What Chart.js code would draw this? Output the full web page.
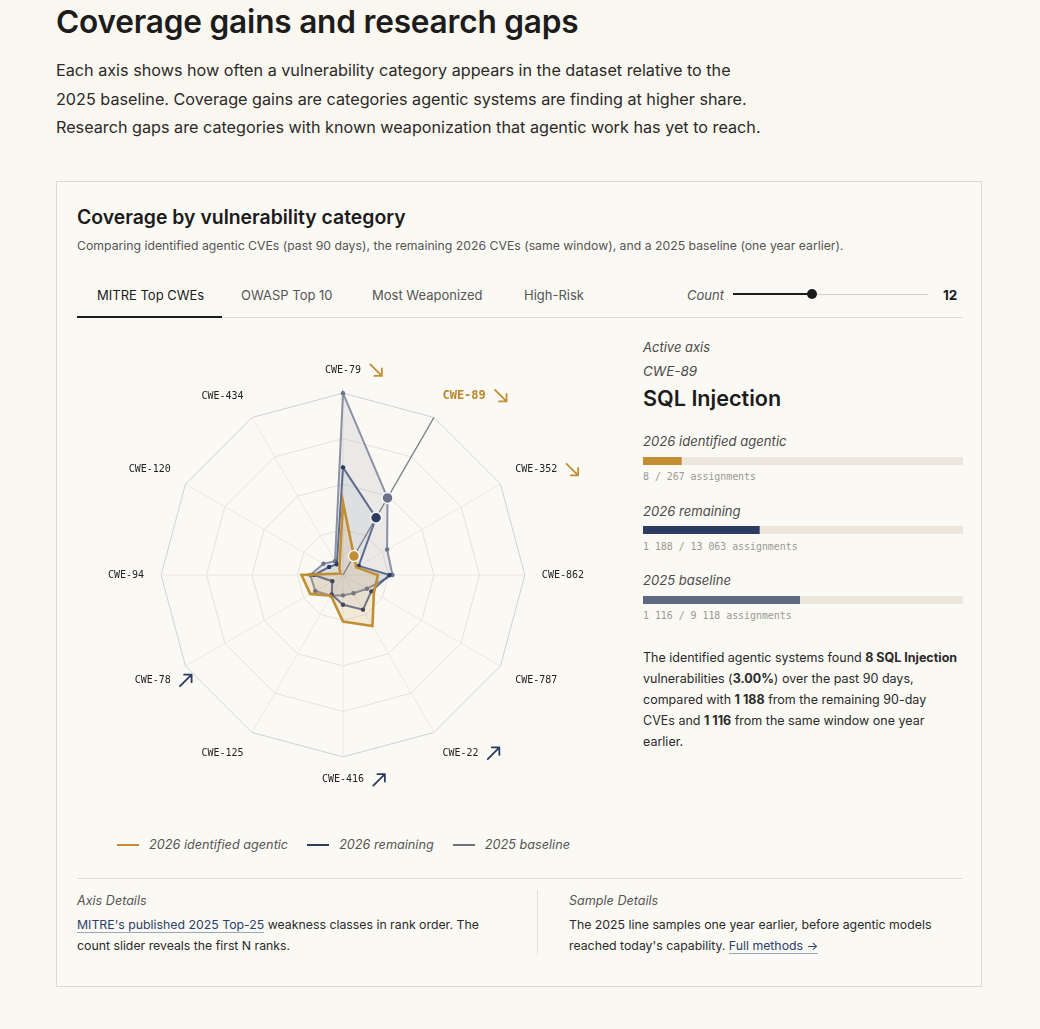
<!DOCTYPE html>
<html><head><meta charset="utf-8">
<script src="https://cdn.jsdelivr.net/npm/chart.js@4.4.1/dist/chart.umd.min.js"></script>
<style>
html,body{margin:0;padding:0}
body{background:#faf7f0;font-family:Inter,'Noto Sans',sans-serif;color:#1c1c1c;width:1040px;height:1029px;position:relative;overflow:hidden}
.a{position:absolute;white-space:nowrap}
.card{position:absolute;left:56px;top:181px;width:926px;height:806px;border:1px solid #dcd8cf;background:#fbf9f4;box-sizing:border-box}
.it{font-style:italic;color:#4a4a4a}
.mono{font-family:'DejaVu Sans Mono',monospace;font-size:9.9px;color:#9a9893}
.track{position:absolute;left:643px;width:320px;height:8px;background:#ede6dc}
.lg{display:inline-flex;align-items:center;margin-right:19px}
.lg i{display:inline-block;width:22px;height:2px;margin-right:10px}
a{color:#2b3f6b;text-decoration:none;border-bottom:1px solid #9aa6c0}
</style></head>
<body>
<div class="a" style="left:56px;top:3px;font-size:31.6px;line-height:38px;font-weight:600;letter-spacing:-0.2px">Coverage gains and research gaps</div>
<div class="a" style="left:56px;top:56px;font-size:16.2px;line-height:28.6px;color:#2a2a2a">Each axis shows how often a vulnerability category appears in the dataset relative to the<br>2025 baseline. Coverage gains are categories agentic systems are finding at higher share.<br>Research gaps are categories with known weaponization that agentic work has yet to reach.</div>

<div class="card"></div>
<div class="a" style="left:77px;top:205px;font-size:19.4px;line-height:24px;font-weight:600">Coverage by vulnerability category</div>
<div class="a" style="left:77px;top:238px;font-size:12.25px;line-height:16px;color:#555">Comparing identified agentic CVEs (past 90 days), the remaining 2026 CVEs (same window), and a 2025 baseline (one year earlier).</div>

<div class="a" style="left:97px;top:286px;font-size:13px;line-height:18px;color:#1c1c1c">MITRE Top CWEs</div>
<div class="a" style="left:241px;top:286px;font-size:13px;line-height:18px;color:#555">OWASP Top 10</div>
<div class="a" style="left:372px;top:286px;font-size:13px;line-height:18px;color:#555">Most Weaponized</div>
<div class="a" style="left:524px;top:286px;font-size:13px;line-height:18px;color:#555">High-Risk</div>
<div class="a" style="left:77px;top:317px;width:886px;height:1px;background:#dedad2"></div>
<div class="a" style="left:77px;top:316px;width:145px;height:2px;background:#1c1c1c"></div>
<div class="a it" style="left:687px;top:286px;font-size:13px;line-height:18px;color:#555">Count</div>
<div class="a" style="left:733px;top:293px;width:80px;height:2px;background:#1c1c1c"></div>
<div class="a" style="left:812px;top:294px;width:116px;height:1px;background:#d6d2ca"></div>
<div class="a" style="left:807px;top:289px;width:10px;height:10px;border-radius:50%;background:#1c1c1c"></div>
<div class="a" style="left:943px;top:286px;font-size:13.5px;line-height:18px;font-weight:700">12</div>

<div class="a" style="left:77px;top:330px;width:534px;height:490px"><canvas id="radar" width="534" height="490"></canvas></div>

<div class="a" id="legend" style="left:117px;top:833px;font-size:12.7px;line-height:18px;font-style:italic;color:#555"></div>

<div class="a it" style="left:643px;top:339px;font-size:13px;line-height:17px">Active axis</div>
<div class="a it" id="actCode" style="left:643px;top:362px;font-size:13.5px;line-height:18px"></div>
<div class="a" id="actName" style="left:643px;top:384px;font-size:21.6px;line-height:28px;font-weight:600"></div>

<div class="a it" id="s0" style="left:643px;top:432px;font-size:13.1px;line-height:18px"></div>
<div class="track" style="top:457px"><canvas id="b0" width="320" height="8"></canvas></div>
<div class="a mono" id="c0" style="left:643px;top:471px;line-height:12px"></div>
<div class="a it" id="s1" style="left:643px;top:502px;font-size:13.1px;line-height:18px"></div>
<div class="track" style="top:526px"><canvas id="b1" width="320" height="8"></canvas></div>
<div class="a mono" id="c1" style="left:643px;top:541px;line-height:12px"></div>
<div class="a it" id="s2" style="left:643px;top:571px;font-size:13.1px;line-height:18px"></div>
<div class="track" style="top:596px"><canvas id="b2" width="320" height="8"></canvas></div>
<div class="a mono" id="c2" style="left:643px;top:610px;line-height:12px"></div>

<div class="a" id="para" style="left:643px;top:647px;font-size:12.5px;line-height:21px;color:#2a2a2a"></div>

<div class="a" style="left:77px;top:878px;width:886px;height:1px;background:#e3dfd7"></div>
<div class="a" style="left:537px;top:890px;width:1px;height:65px;background:#e3dfd7"></div>
<div class="a it" style="left:77px;top:892px;font-size:12.6px;line-height:18px;color:#555">Axis Details</div>
<div class="a" style="left:77px;top:915px;font-size:12.3px;line-height:20.5px;color:#2a2a2a"><a>MITRE's published 2025 Top-25</a> weakness classes in rank order. The<br>count slider reveals the first N ranks.</div>
<div class="a it" style="left:569px;top:892px;font-size:12.6px;line-height:18px;color:#555">Sample Details</div>
<div class="a" style="left:569px;top:915px;font-size:12.3px;line-height:20.5px;color:#2a2a2a">The 2025 line samples one year earlier, before agentic models<br>reached today's capability. <a>Full methods →</a></div>

<script>
// ---- data ----
const categories = ['CWE-79','CWE-89','CWE-352','CWE-862','CWE-787','CWE-22','CWE-416','CWE-125','CWE-78','CWE-94','CWE-120','CWE-434'];
const agentic   = [10.0, 3.00, 2.1, 4.8, 4.9, 8.1, 6.4, 3.3, 5.2, 5.7, 0.4, 1.0];
const remaining = [14.8, 9.09, 2.5, 6.4, 4.5, 5.5, 4.1, 3.1, 1.7, 4.0, 2.2, 1.7];
const baseline  = [25.0, 12.24, 7.0, 6.8, 3.8, 2.9, 2.8, 3.3, 4.4, 4.5, 3.1, 2.2];
const seriesNames = ['2026 identified agentic','2026 remaining','2025 baseline'];
const trendDown = ['CWE-79','CWE-89','CWE-352'];
const trendUp   = ['CWE-22','CWE-416','CWE-78'];
const activeCode = 'CWE-89';
const activeName = 'SQL Injection';
const activeCounts = ['8','1 188','1 116'];
const activeTotals = ['267','13 063','9 118'];
const scaleMax = 25;
const ringStep = 6.25;

// ---- styles ----
const GOLD='#c28e34', NAVY='#2b3b62', GRAY='#6b7389';
const colors=[GOLD,NAVY,GRAY];
const activeIndex = categories.indexOf(activeCode);

document.getElementById('legend').innerHTML = seriesNames.map((n,i)=>`<span class="lg"><i style="background:${colors[i]}"></i>${n}</span>`).join('');

const ptRadius = small => ctx => ctx.dataIndex===activeIndex ? 5.5 : small;

const axisPlugin = {
  id:'activeAxis',
  beforeDatasetsDraw(chart){
    const s=chart.scales.r, ctx=chart.ctx;
    const p=s.getPointPositionForValue(activeIndex, scaleMax);
    ctx.save(); ctx.strokeStyle='#7b7e87'; ctx.lineWidth=1.4;
    ctx.beginPath(); ctx.moveTo(s.xCenter,s.yCenter); ctx.lineTo(p.x,p.y); ctx.stroke(); ctx.restore();
  },
  afterDraw(chart){
    const s=chart.scales.r, ctx=chart.ctx;
    categories.forEach((c,i)=>{
      const down=trendDown.includes(c), up=trendUp.includes(c);
      if(!down && !up) return;
      const b=s.getPointLabelPosition(i);
      const cx=b.right+15, cy=(b.top+b.bottom)/2, h=5.8;
      ctx.save(); ctx.strokeStyle= down?GOLD:NAVY; ctx.lineWidth=1.8; ctx.lineCap='round'; ctx.lineJoin='round';
      ctx.beginPath();
      if(down){
        ctx.moveTo(cx-h,cy-h); ctx.lineTo(cx+h,cy+h);
        ctx.moveTo(cx+h,cy+h-7.5); ctx.lineTo(cx+h,cy+h); ctx.lineTo(cx+h-7.5,cy+h);
      } else {
        ctx.moveTo(cx-h,cy+h); ctx.lineTo(cx+h,cy-h);
        ctx.moveTo(cx+h-7.5,cy-h); ctx.lineTo(cx+h,cy-h); ctx.lineTo(cx+h,cy-h+7.5);
      }
      ctx.stroke(); ctx.restore();
    });
  }
};

new Chart(document.getElementById('radar'),{
  type:'radar',
  data:{labels:categories, datasets:[
    {label:seriesNames[0], data:agentic, borderColor:GOLD, backgroundColor:'rgba(194,142,52,0.15)', borderWidth:2.6, fill:true,
     pointRadius:ptRadius(0), pointBackgroundColor:GOLD, pointBorderColor:'#fbf9f4', pointBorderWidth:1.5},
    {label:seriesNames[1], data:remaining, borderColor:'rgba(60,78,120,0.8)', backgroundColor:'rgba(70,90,140,0.07)', borderWidth:2, fill:true,
     pointRadius:ptRadius(2.2), pointBackgroundColor:NAVY, pointBorderColor: ctx=>ctx.dataIndex===activeIndex?'#fbf9f4':NAVY, pointBorderWidth:ctx=>ctx.dataIndex===activeIndex?1.5:0},
    {label:seriesNames[2], data:baseline, borderColor:'rgba(120,128,150,0.85)', backgroundColor:'rgba(120,128,150,0.13)', borderWidth:2, fill:true,
     pointRadius:ptRadius(2.2), pointBackgroundColor:GRAY, pointBorderColor: ctx=>ctx.dataIndex===activeIndex?'#fbf9f4':GRAY, pointBorderWidth:ctx=>ctx.dataIndex===activeIndex?1.5:0,
     segment:{borderDash: ctx => (ctx.p0DataIndex>=3 && ctx.p0DataIndex<=7) ? [2.5,2.5] : undefined}}
  ]},
  options:{
    responsive:false, animation:false, events:[],
    layout:{padding:{left:29,right:23,top:0,bottom:0}},
    plugins:{legend:{display:false}, tooltip:{enabled:false}},
    scales:{r:{
      min:0, max:scaleMax,
      ticks:{display:false, stepSize:ringStep},
      grid:{color: ctx => ctx.index===4 ? '#cfd1d8' : '#e4e1da', lineWidth:1},
      angleLines:{color:'#ebe8e1', lineWidth:1},
      pointLabels:{padding:17,
        color: ctx => ctx.index===activeIndex ? '#b8862b' : '#222',
        font: ctx => ctx.index===activeIndex ? {family:'DejaVu Sans Mono', size:12, weight:'bold'} : {family:'DejaVu Sans Mono', size:10}}
    }}
  },
  plugins:[axisPlugin]
});

// side panel
document.getElementById('actCode').textContent = activeCode;
document.getElementById('actName').textContent = activeName;
const vals=[agentic[activeIndex], remaining[activeIndex], baseline[activeIndex]];
const barColors=[GOLD,NAVY,'#5f6982'];
vals.forEach((v,i)=>{
  document.getElementById('s'+i).textContent = seriesNames[i];
  document.getElementById('c'+i).textContent = activeCounts[i]+' / '+activeTotals[i]+' assignments';
  new Chart(document.getElementById('b'+i),{
    type:'bar',
    data:{labels:[seriesNames[i]], datasets:[{data:[v], backgroundColor:barColors[i], barPercentage:1, categoryPercentage:1, borderWidth:0}]},
    options:{indexAxis:'y', responsive:false, animation:false, events:[], layout:{padding:0},
      plugins:{legend:{display:false}, tooltip:{enabled:false}},
      scales:{x:{display:false,min:0,max:scaleMax}, y:{display:false}}}
  });
});
document.getElementById('para').innerHTML =
  `The identified agentic systems found <b>${activeCounts[0]} ${activeName}</b><br>vulnerabilities (<b>${agentic[activeIndex].toFixed(2)}%</b>) over the past 90 days,<br>compared with <b>${activeCounts[1]}</b> from the remaining 90-day<br>CVEs and <b>${activeCounts[2]}</b> from the same window one year<br>earlier.`;
</script>
</body></html>
